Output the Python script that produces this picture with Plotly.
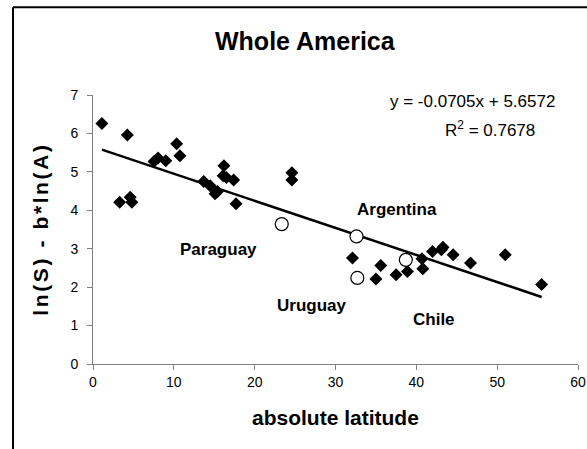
import numpy as np
import plotly.graph_objects as go

# Country data: absolute latitude vs. ln(S) - b*ln(A)
lat_other = [1.1, 3.3, 4.25, 4.6, 4.8, 7.55, 8.05, 9.0, 10.35, 10.75,
             13.7, 14.5, 15.1, 15.4, 16.2, 16.1, 16.5, 17.4, 17.7,
             24.6, 24.6, 32.1, 35.0, 35.6, 37.5, 38.9, 40.7, 40.8,
             42.0, 43.1, 43.3, 44.55, 46.7, 51.0, 55.5]
val_other = [6.26, 4.21, 5.96, 4.34, 4.21, 5.27, 5.36, 5.29, 5.73, 5.42,
             4.75, 4.64, 4.43, 4.49, 5.16, 4.90, 4.85, 4.79, 4.17,
             4.98, 4.79, 2.76, 2.21, 2.56, 2.32, 2.41, 2.74, 2.48,
             2.93, 2.97, 3.04, 2.84, 2.63, 2.84, 2.07]

# Highlighted countries
lat_hl = [23.35, 32.6, 32.7, 38.7]
val_hl = [3.64, 3.32, 2.24, 2.71]

# Linear trend
slope = -0.0705
intercept = 5.6572
r_squared = 0.7678

labels = ["Argentina", "Paraguay", "Uruguay", "Chile"]
label_x = [37.6, 15.5, 27.1, 42.2]
label_y = [4.01, 2.97, 1.52, 1.16]

x_ticks = [0, 10, 20, 30, 40, 50, 60]
y_ticks = [0, 1, 2, 3, 4, 5, 6, 7]

FONT = "Arial, Liberation Sans, sans-serif"

all_x = lat_other + lat_hl
trend_x = np.array([min(all_x), max(all_x)])
trend_y = slope * trend_x + intercept

fig = go.Figure()
fig.add_trace(go.Scatter(
    x=trend_x, y=trend_y, mode="lines",
    line=dict(color="black", width=2.5), hoverinfo="skip"))
fig.add_trace(go.Scatter(
    x=lat_other, y=val_other, mode="markers",
    marker=dict(symbol="diamond", size=10, color="black")))
fig.add_trace(go.Scatter(
    x=lat_hl, y=val_hl, mode="markers",
    marker=dict(symbol="circle", size=13, color="white",
                line=dict(color="black", width=1.2))))


def note(text, x, y, size, paper=False, **kw):
    d = dict(text=text, x=x, y=y, showarrow=False,
             xanchor="center", yanchor="middle",
             font=dict(size=size, color="black", family=FONT))
    if paper:
        d.update(xref="paper", yref="paper")
    d.update(kw)
    return d


annotations = [
    note("<b>Whole America</b>", 0.439, 1.2, 25, paper=True),
    note(f"y = {slope}x + {intercept}", 47.0, 6.82, 17),
    note(f"R<sup>2</sup> = {r_squared}", 49.1, 6.12, 17),
    note("<b>absolute latitude</b>", 0.499, -0.1985, 21, paper=True),
    note('<b><span style="letter-spacing:2.6px">ln(S) - b*ln(A)</span></b>',
         -0.109, 0.5, 21, paper=True, textangle=-90),
]
for t, lx, ly in zip(labels, label_x, label_y):
    annotations.append(note(f"<b>{t}</b>", lx, ly, 17))

# Outer frame (left and top edges)
shapes = [
    dict(type="line", xref="paper", yref="paper", x0=-0.1649, x1=-0.1649,
         y0=1.3265, y1=-0.4, line=dict(color="black", width=2)),
    dict(type="line", xref="paper", yref="paper", x0=-0.1649, x1=1.05,
         y0=1.3265, y1=1.3265, line=dict(color="black", width=2)),
]

axis_common = dict(showgrid=False, zeroline=False, showline=True,
                   linecolor="#808080", linewidth=1, ticks="outside",
                   tickcolor="#808080", ticklen=5, tickwidth=1,
                   automargin=False,
                   tickfont=dict(size=14, color="black", family=FONT))

fig.update_layout(
    width=587, height=449,
    margin=dict(l=93, r=9, t=95, b=84.5, autoexpand=False),
    paper_bgcolor="white", plot_bgcolor="white",
    showlegend=False,
    font=dict(family=FONT, color="black"),
    xaxis=dict(range=[0, 60], tickvals=x_ticks, **axis_common),
    yaxis=dict(range=[0, 7], tickvals=y_ticks, ticklabelstandoff=6, **axis_common),
    annotations=annotations,
    shapes=shapes,
)

fig.write_html("out.html")
